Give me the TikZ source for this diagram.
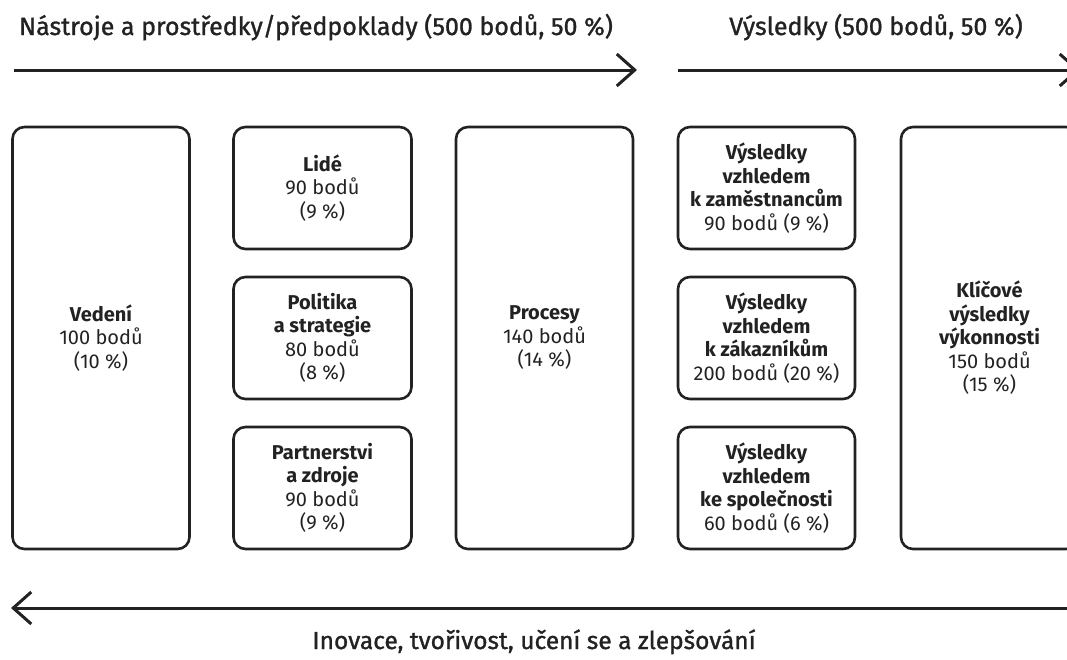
\documentclass[tikz,border=0pt]{standalone}
\usepackage{fontspec}
\setmainfont{Fira Sans}
\newfontfamily\headfont{Fira Sans}[FakeBold=1.2]
\usetikzlibrary{arrows.meta}
\definecolor{ink}{HTML}{222222}

\begin{document}
\begin{tikzpicture}[x=1pt,y=-1pt,
  card/.style={draw=ink, line width=2.6pt, rounded corners=12pt,
    inner sep=0pt, align=center, text=ink,
    font=\fontsize{20}{23.5}\selectfont},
  tallcard/.style={card, minimum width=177pt, minimum height=422pt},
  smallcard/.style={card, minimum width=178pt, minimum height=122pt},
  flow/.style={draw=ink, line width=3pt,
    -{Straight Barb[length=18pt, width=32pt, line width=3pt]}},
  heading/.style={text=ink, inner sep=0pt, anchor=base,
    font=\headfont\fontsize{25}{28}\selectfont}]
\useasboundingbox (0,0) rectangle (1067,659);
\clip (0,0) rectangle (1067,659);

% headings
\node[heading] (tEnablers) at (316,35) {Nástroje a prostředky/předpoklady (500 bodů, 50 \%)};
\node[heading] (tResults) at (876,35) {Výsledky (500 bodů, 50 \%)};
\node[heading, font=\headfont\fontsize{24.5}{28}\selectfont] (tLearn) at (534,649) {Inovace, tvořivost, učení se a zlepšování};

% direction arrows
\coordinate (aS) at (14,70);
\coordinate (aE) at (637,70);
\coordinate (bS) at (678,70);
\coordinate (bE) at (1080,70);
\coordinate (cS) at (1080,608);
\coordinate (cE) at (11,608);
\draw[flow] (aS) -- (aE);
\draw[flow] (bS) -- (bE);
\draw[flow] (cS) -- (cE);

% enablers
\node[tallcard] (lead) at (101,338) {\textbf{Vedení}\\100 bodů\\(10 \%)};
\node[smallcard] (people) at (322.5,188) {\textbf{Lidé}\\90 bodů\\(9 \%)};
\node[smallcard] (policy) at (322.5,338) {\textbf{Politika}\\\textbf{a strategie}\\80 bodů\\(8 \%)};
\node[smallcard] (partner) at (322.5,488) {\textbf{Partnerstvi}\\\textbf{a zdroje}\\90 bodů\\(9 \%)};
\node[tallcard] (proc) at (544.5,338) {\textbf{Procesy}\\140 bodů\\(14 \%)};

% results
\node[smallcard, minimum width=177pt] (rPeople) at (766.5,188) {\textbf{Výsledky}\\\textbf{vzhledem}\\\textbf{k zaměstnancům}\\90 bodů (9 \%)};
\node[smallcard, minimum width=177pt] (rCust) at (766.5,338) {\textbf{Výsledky}\\\textbf{vzhledem}\\\textbf{k zákazníkům}\\200 bodů (20 \%)};
\node[smallcard, minimum width=177pt] (rSoc) at (766.5,488) {\textbf{Výsledky}\\\textbf{vzhledem}\\\textbf{ke společnosti}\\60 bodů (6 \%)};
\node[tallcard] (key) at (989.5,338) {\textbf{Klíčové}\\\textbf{výsledky}\\\textbf{výkonnosti}\\150 bodů\\(15 \%)};
\end{tikzpicture}
\end{document}
